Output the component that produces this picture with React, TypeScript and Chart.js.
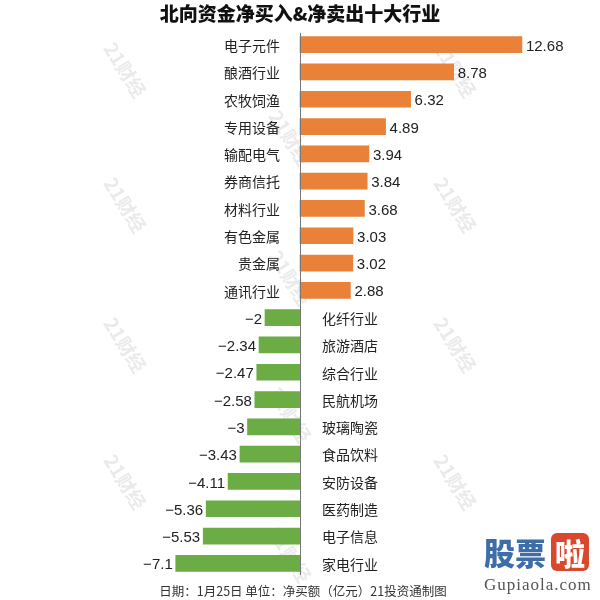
import React, { useEffect, useRef } from "react";
import { Chart, registerables } from "chart.js";

Chart.register(...registerables);

const categories = [
  "电子元件", "酿酒行业", "农牧饲渔", "专用设备", "输配电气",
  "券商信托", "材料行业", "有色金属", "贵金属", "通讯行业",
  "化纤行业", "旅游酒店", "综合行业", "民航机场", "玻璃陶瓷",
  "食品饮料", "安防设备", "医药制造", "电子信息", "家电行业",
];
const values = [
  12.68, 8.78, 6.32, 4.89, 3.94, 3.84, 3.68, 3.03, 3.02, 2.88,
  -2, -2.34, -2.47, -2.58, -3, -3.43, -4.11, -5.36, -5.53, -7.1,
];
const titleText = "北向资金净买入&净卖出十大行业";
const footerText = "日期：1月25日 单位：净买额（亿元）21投资通制图";
const watermarkText = "21财经";

const ORANGE = "#E98139";
const GREEN = "#6BAC45";
const FONT = '"Noto Sans CJK SC", "Noto Sans", sans-serif';
const NUMFONT = '"Liberation Sans", "Noto Sans CJK SC", sans-serif';

const watermarkPlugin = {
  id: "watermarks",
  beforeDatasetsDraw(chart: any) {
    const ctx = chart.ctx;
    const cols = [125, 290, 455];
    const rowsSide = [70, 205, 345, 482];
    const rowsMid = [138, 278, 415, 555];
    const spots: [number, number][] = [];
    rowsSide.forEach((y) => { spots.push([cols[0], y]); spots.push([cols[2], y]); });
    rowsMid.forEach((y) => spots.push([cols[1], y]));
    ctx.save();
    ctx.font = `bold 19px ${FONT}`;
    ctx.textAlign = "center";
    ctx.textBaseline = "middle";
    spots.forEach(([x, y]) => {
      ctx.save();
      ctx.translate(x, y);
      ctx.rotate((58 * Math.PI) / 180);
      ctx.fillStyle = "rgba(195,195,195,0.35)";
      ctx.fillText(watermarkText, 0, 0);
      ctx.restore();
    });
    ctx.restore();
  },
};

const labelPlugin = {
  id: "barLabels",
  afterDatasetsDraw(chart: any) {
    const ctx = chart.ctx;
    const xs = chart.scales.x;
    const zero = xs.getPixelForValue(0);
    const area = chart.chartArea;
    ctx.save();
    ctx.strokeStyle = "#777";
    ctx.lineWidth = 1;
    ctx.beginPath();
    ctx.moveTo(Math.round(zero) + 0.5, area.top + 2);
    ctx.lineTo(Math.round(zero) + 0.5, area.bottom - 2);
    ctx.stroke();

    const meta = chart.getDatasetMeta(0);
    ctx.fillStyle = "#222";
    ctx.textBaseline = "middle";
    meta.data.forEach((bar: any, i: number) => {
      const v = values[i];
      const y = bar.y + 1;
      const yn = bar.y + 2;
      const valStr = String(v).replace("-", "\u2212");
      if (v >= 0) {
        ctx.font = `14px ${FONT}`;
        ctx.textAlign = "right";
        ctx.fillText(categories[i], zero - 20, y);
        ctx.font = `15px ${NUMFONT}`;
        ctx.textAlign = "left";
        ctx.fillText(valStr, bar.x + 4, yn);
      } else {
        ctx.font = `14px ${FONT}`;
        ctx.textAlign = "left";
        ctx.fillText(categories[i], zero + 22, y);
        ctx.font = `15px ${NUMFONT}`;
        ctx.textAlign = "right";
        ctx.fillText(valStr, bar.x - 3, yn);
      }
    });
    ctx.restore();
  },
};

export default function App() {
  const ref = useRef<HTMLCanvasElement>(null);
  useEffect(() => {
    if (!ref.current) return;
    const chart = new Chart(ref.current, {
      type: "bar",
      data: {
        labels: categories,
        datasets: [
          {
            data: values,
            backgroundColor: values.map((v) => (v >= 0 ? ORANGE : GREEN)),
            borderWidth: 0,
            barThickness: 16,
          },
        ],
      },
      options: {
        indexAxis: "y",
        animation: false,
        responsive: false,
        maintainAspectRatio: false,
        layout: { padding: { top: 31, bottom: 23, left: 0, right: 0 } },
        plugins: { legend: { display: false }, tooltip: { enabled: false }, title: { display: false } },
        scales: {
          x: { display: false, min: -17.14, max: 17.14 },
          y: { display: false },
        },
      },
      plugins: [watermarkPlugin, labelPlugin],
    });
    return () => chart.destroy();
  }, []);

  return (
    <div style={{ position: "fixed", left: 0, top: 0, width: 600, height: 600, background: "#fff", fontFamily: FONT }}>
      <canvas ref={ref} width={600} height={600} style={{ position: "absolute", left: 0, top: 0 }} />
      <div style={{ position: "absolute", left: 0, top: 0, width: 600, textAlign: "center", fontWeight: 900, fontSize: 19, lineHeight: "26px", color: "#111" }}>
        {titleText}
      </div>
      <div style={{ position: "absolute", left: 0, top: 582, width: 606, textAlign: "center", fontSize: 12.5, lineHeight: "18px", color: "#333" }}>
        {footerText}
      </div>
      <div style={{ position: "absolute", left: 484, top: 531, width: 112, height: 42, display: "flex", alignItems: "center", fontWeight: 900, fontSize: 31, color: "#3E6DA8", lineHeight: "40px" }}>
        <span>股票</span>
        <span style={{ marginLeft: 5, background: "#D9482D", color: "#fff", borderRadius: 6, width: 38, height: 38, display: "inline-flex", alignItems: "center", justifyContent: "center", fontSize: 30 }}>啦</span>
      </div>
      <div style={{ position: "absolute", left: 484, top: 575, width: 116, fontFamily: '"Liberation Serif", "DejaVu Serif", serif', fontSize: 17, letterSpacing: 1, color: "#555", lineHeight: "20px", whiteSpace: "nowrap" }}>
        Gupiaola.com
      </div>
    </div>
  );
}
